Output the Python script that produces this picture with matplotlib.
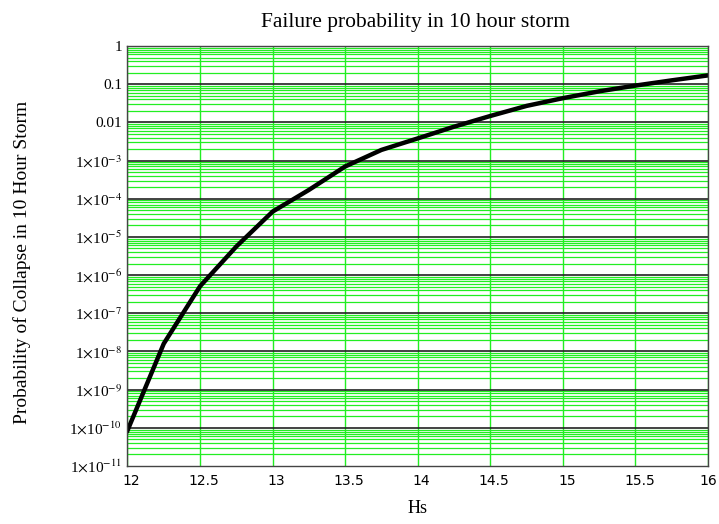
import numpy as np
import matplotlib.pyplot as plt
from matplotlib.ticker import FixedLocator, LogLocator, NullFormatter
import matplotlib.transforms as mtransforms

plt.rcParams['mathtext.fontset'] = 'stix'

# significant wave height (m) and probability of collapse
hs = [12.0, 12.25, 12.5, 12.75, 13.0, 13.25, 13.5, 13.75, 14.0, 14.25,
      14.5, 14.75, 15.0, 15.25, 15.5, 15.75, 16.0]
p_fail = [8.5e-11, 1.6e-8, 5.1e-7, 5.6e-6, 4.6e-5, 1.7e-4, 7.0e-4, 1.9e-3,
          3.8e-3, 7.7e-3, 1.47e-2, 2.7e-2, 4.3e-2, 6.5e-2, 9.2e-2, 0.126, 0.17]

xticks = [12, 12.5, 13, 13.5, 14, 14.5, 15, 15.5, 16]
xtick_labels = ['12', '12.5', '13', '13.5', '14', '14.5', '15', '15.5', '16']
yticks = [1e-11, 1e-10, 1e-9, 1e-8, 1e-7, 1e-6, 1e-5, 1e-4, 1e-3, 0.01, 0.1, 1]
ytick_labels = [r'1$\times$10$^{-11}$', r'1$\times$10$^{-10}$', r'1$\times$10$^{-9}$',
                r'1$\times$10$^{-8}$', r'1$\times$10$^{-7}$', r'1$\times$10$^{-6}$',
                r'1$\times$10$^{-5}$', r'1$\times$10$^{-4}$', r'1$\times$10$^{-3}$',
                '0.01', '0.1', '1']

fig = plt.figure(figsize=(7.19, 5.24), dpi=100)
ax = fig.add_axes([0.1773, 0.1107, 0.8074, 0.8015])

ax.set_yscale('log')
ax.set_xlim(12, 16)
ax.set_ylim(1e-11, 1)

green = '#22ee22'
# minor horizontal grid (green)
ax.yaxis.set_minor_locator(LogLocator(base=10, subs=np.arange(2, 10), numticks=100))
ax.yaxis.set_minor_formatter(NullFormatter())
ax.grid(True, which='minor', axis='y', color=green, lw=0.9)
# vertical grid
ax.set_xticks(xticks)
ax.grid(True, which='major', axis='x', color=green, lw=1.0)
# decade lines (black), drawn above the green grid
ax.yaxis.set_major_locator(FixedLocator(yticks))
ax.set_yticklabels(ytick_labels)
for yv in yticks[1:-1]:
    ax.axhline(yv, color='#222222', lw=1.2, zorder=2)

ax.plot(hs, p_fail, color='black', lw=3.2, solid_joinstyle='miter', zorder=5)

ax.set_xticklabels(xtick_labels, fontfamily='DejaVu Sans', fontsize=10)
for lab in ax.get_yticklabels():
    lab.set_fontfamily('Liberation Serif')
    lab.set_fontsize(11)
ax.tick_params(which='both', length=0)
ax.tick_params(axis='x', pad=6)
ax.tick_params(axis='y', pad=4)

offset = mtransforms.ScaledTranslation(4 / 100, 0, fig.dpi_scale_trans)
for lab in ax.get_xticklabels()[:-1]:
    lab.set_transform(lab.get_transform() + offset)

for s in ax.spines.values():
    s.set_color('#444444')
    s.set_linewidth(1.0)
    s.set_zorder(6)

fig.text(0.578, 0.957, 'Failure probability in 10 hour storm',
         ha='center', va='center', fontfamily='Liberation Serif', fontsize=15.5)
fig.text(0.031, 0.5, 'Probability of Collapse in 10 Hour Storm', rotation=90,
         ha='center', va='center', fontfamily='Liberation Serif', fontsize=14)
fig.text(0.58, 0.03, 'Hs', ha='center', va='center',
         fontfamily='Liberation Serif', fontsize=13)

fig.savefig('out.png', dpi=100)
